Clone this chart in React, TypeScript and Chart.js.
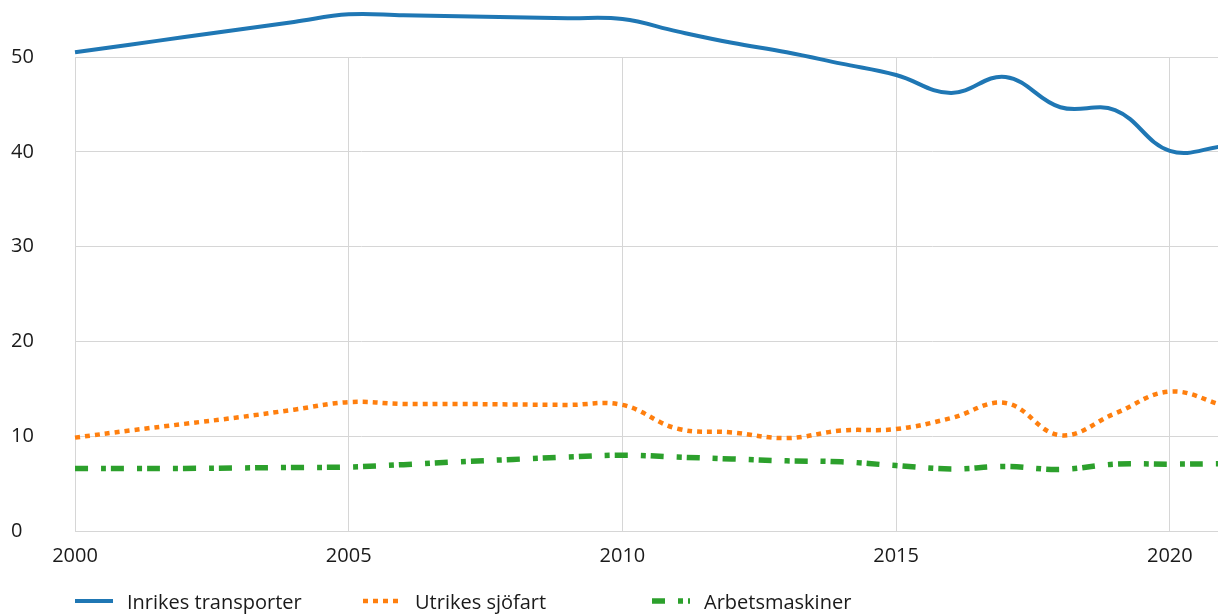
import React, { useEffect, useRef } from "react";
import { Chart, registerables } from "chart.js";

Chart.register(...registerables);

const years = [2000, 2001, 2002, 2003, 2004, 2005, 2006, 2007, 2008, 2009, 2010, 2011, 2012, 2013, 2014, 2015, 2016, 2017, 2018, 2019, 2020, 2021];
const inrikesTransporter = [50.5, 51.3, 52.1, 52.9, 53.7, 54.5, 54.4, 54.3, 54.2, 54.1, 54.0, 52.7, 51.5, 50.5, 49.3, 48.1, 46.2, 47.9, 44.7, 44.4, 40.1, 40.6];
const utrikesSjofart = [9.85, 10.6, 11.3, 12.0, 12.8, 13.6, 13.4, 13.4, 13.35, 13.3, 13.3, 10.8, 10.4, 9.8, 10.6, 10.75, 11.9, 13.5, 10.1, 12.4, 14.7, 13.2];
const arbetsmaskiner = [6.6, 6.6, 6.6, 6.65, 6.7, 6.75, 7.0, 7.3, 7.55, 7.8, 8.0, 7.8, 7.6, 7.4, 7.3, 6.9, 6.55, 6.8, 6.5, 7.05, 7.05, 7.1];
const xTickValues = [2000, 2005, 2010, 2015, 2020];
const yTickValues = [0, 10, 20, 30, 40, 50];
const seriesNames = ["Inrikes transporter", "Utrikes sjöfart", "Arbetsmaskiner"];

const colors = ["#1f77b4", "#ff7f0e", "#2ca02c"];
const widths = [4, 4.5, 5.5];
const dashes: number[][] = [[], [5, 5], [13, 13, 5, 5]];
const gridColor = "#d6d6d6";
const textColor = "#1a1a1a";
const fontFamily = "'Open Sans', sans-serif";

export default function App() {
  const ref = useRef<HTMLCanvasElement>(null);

  useEffect(() => {
    document.body.style.margin = "0";
    const seriesData = [inrikesTransporter, utrikesSjofart, arbetsmaskiner];
    const chart = new Chart(ref.current as HTMLCanvasElement, {
      type: "line",
      data: {
        datasets: seriesData.map((vals, i) => ({
          label: seriesNames[i],
          data: years.map((x, j) => ({ x, y: vals[j] })),
          borderColor: colors[i],
          backgroundColor: colors[i],
          borderWidth: widths[i],
          borderDash: dashes[i],
          borderCapStyle: "butt",
          pointRadius: 0,
          tension: 0.4,
          fill: false,
          clip: false,
        })),
      },
      options: {
        responsive: false,
        animation: false,
        layout: { padding: { left: 11, top: 57, right: 0, bottom: 43 } },
        elements: { line: { capBezierPoints: false } },
        plugins: { legend: { display: false }, tooltip: { enabled: false } },
        scales: {
          x: {
            type: "linear",
            min: 2000,
            max: 2020.88,
            afterBuildTicks: (s: any) => {
              s.ticks = xTickValues.map((v) => ({ value: v }));
            },
            afterFit: (s: any) => {
              s.height = 40;
            },
            grid: { color: gridColor, lineWidth: 1, drawTicks: false },
            border: { color: gridColor, width: 1 },
            ticks: {
              autoSkip: false,
              maxRotation: 0,
              padding: 13,
              color: textColor,
              font: { family: fontFamily, size: 20 },
              callback: (v: any) => String(v),
            },
          },
          y: {
            min: 0,
            max: 50,
            afterBuildTicks: (s: any) => {
              s.ticks = yTickValues.map((v) => ({ value: v }));
            },
            afterFit: (s: any) => {
              s.width = 64;
            },
            grid: { color: gridColor, lineWidth: 1, drawTicks: false },
            border: { color: gridColor, width: 1 },
            ticks: {
              crossAlign: "far",
              color: textColor,
              font: { family: fontFamily, size: 20 },
              callback: (v: any) => String(v),
            },
          },
        },
      },
    } as any);
    return () => chart.destroy();
  }, []);

  const legendLefts = [75, 363, 652];

  return (
    <div style={{ position: "relative", width: 1218, height: 614, overflow: "hidden", background: "#fff" }}>
      <canvas ref={ref} width={1218} height={614} style={{ display: "block" }} />
      {seriesNames.map((name, i) => (
        <div
          key={name}
          style={{
            position: "absolute",
            left: legendLefts[i],
            top: 587,
            height: 28,
            display: "flex",
            alignItems: "center",
            fontFamily,
            fontSize: 20,
            color: textColor,
            whiteSpace: "nowrap",
          }}
        >
          <svg width={38} height={10} style={{ marginRight: 14 }}>
            <line
              x1={0}
              y1={5}
              x2={38}
              y2={5}
              stroke={colors[i]}
              strokeWidth={widths[i]}
              strokeDasharray={dashes[i].length ? dashes[i].join(" ") : undefined}
            />
          </svg>
          <span>{name}</span>
        </div>
      ))}
    </div>
  );
}
